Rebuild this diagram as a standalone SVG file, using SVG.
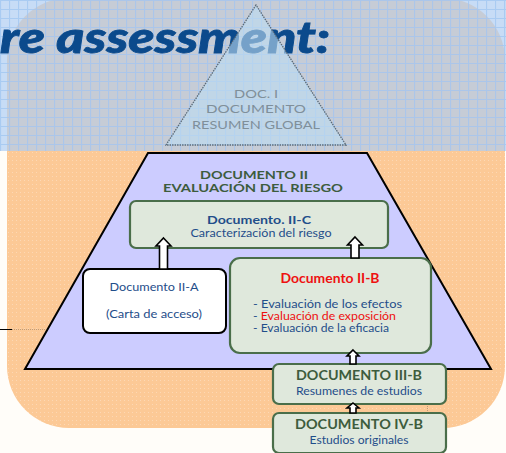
<svg xmlns="http://www.w3.org/2000/svg" width="506" height="453" viewBox="0 0 506 453">
<defs>
<style>
.t{font-family:Lato,"Open Sans","Liberation Sans",sans-serif;}
.bl{fill:#1f4e8a;font-size:12px;}
.sm{font-size:11.2px;}
.bgreen{fill:#3d5c3d;font-weight:bold;font-size:12.5px;}
.hd{font-size:11.5px;}
.box{fill:#dfe8dc;stroke:#4a6e4a;stroke-width:2.2;}
.arr{fill:#ffffff;stroke:#000000;stroke-width:1.6;stroke-linejoin:miter;}
.doc1{fill:#7f8f9a;font-size:11.5px;}
</style>
<pattern id="gridB" width="9" height="9" patternUnits="userSpaceOnUse">
<rect width="9" height="9" fill="#c7dcf6"/>
<path d="M0 0.5H9M0.5 0V9" stroke="#a9cbf2" stroke-width="1.2"/>
</pattern>
<pattern id="gridG" width="9" height="9" patternUnits="userSpaceOnUse">
<rect width="9" height="9" fill="#c6ccd6"/>
<path d="M0 0.5H9M0.5 0V9" stroke="#abc6ea" stroke-width="1.2"/>
</pattern>
<pattern id="dotO" width="4" height="4" patternUnits="userSpaceOnUse">
<rect width="4" height="4" fill="#fcc996"/>
<rect x="0" y="0" width="1" height="1" fill="#fdd8b4"/>
</pattern>
<clipPath id="topband"><rect x="0" y="0" width="506" height="151"/></clipPath>
</defs>
<g id="background">
<rect x="0" y="0" width="506" height="453" fill="#fffdf9"/>
<rect x="7" y="-2" width="498" height="430" rx="62" ry="62" fill="url(#dotO)"/>
<rect x="0" y="0" width="506" height="151" fill="url(#gridB)"/>
<rect x="7" y="-2" width="498" height="430" rx="62" ry="62" fill="url(#gridG)" clip-path="url(#topband)"/>
<line x1="0" y1="329.5" x2="12" y2="329.5" stroke="#000" stroke-width="1"/>
<line x1="12" y1="329.5" x2="46" y2="329.5" stroke="#b09070" stroke-width="0.8" stroke-dasharray="1,1"/>
<line x1="427.5" y1="404" x2="427.5" y2="413" stroke="#b09070" stroke-width="0.8" stroke-dasharray="1,1"/>
</g>
<g id="title">
<text class="t" x="0" y="53" font-size="44" font-weight="900" font-style="italic" fill="#0b4a8c" stroke="#0b4a8c" stroke-width="0.8" textLength="330" lengthAdjust="spacingAndGlyphs">re assessment:</text>
</g>
<g id="doc1">
<polygon points="256,5 166,145 346,145" fill="#bcdcf2" fill-opacity="0.6" stroke="#5a6a78" stroke-width="1.3" stroke-dasharray="1.5,1"/>
<text class="t doc1" x="256" y="98" text-anchor="middle" textLength="44" lengthAdjust="spacingAndGlyphs">DOC. I</text>
<text class="t doc1" x="256" y="113" text-anchor="middle" textLength="100" lengthAdjust="spacingAndGlyphs">DOCUMENTO</text>
<text class="t doc1" x="256" y="129" text-anchor="middle" textLength="128" lengthAdjust="spacingAndGlyphs">RESUMEN GLOBAL</text>
</g>
<g id="doc2">
<polygon points="148,153 367,153 491,369 25,369" fill="#ccccff" stroke="#000" stroke-width="2"/>
<text class="t bgreen hd" x="254" y="178.5" text-anchor="middle" textLength="108" lengthAdjust="spacingAndGlyphs">DOCUMENTO II</text>
<text class="t bgreen hd" x="253" y="192" text-anchor="middle" textLength="180" lengthAdjust="spacingAndGlyphs">EVALUACIÓN DEL RIESGO</text>
</g>
<g id="doc2c">
<rect class="box" x="130" y="201" width="258" height="47" rx="6"/>
<text class="t bl" x="259" y="223.5" text-anchor="middle" font-weight="bold" font-size="12" textLength="104" lengthAdjust="spacingAndGlyphs">Documento. II-C</text>
<text class="t bl" x="261" y="237" text-anchor="middle" font-size="11.5" textLength="141" lengthAdjust="spacingAndGlyphs">Caracterización del riesgo</text>
</g>
<g id="doc2a">
<rect x="83" y="269" width="143" height="64" rx="7" fill="#ffffff" stroke="#000" stroke-width="2"/>
<text class="t bl" x="154" y="291" text-anchor="middle" textLength="89" lengthAdjust="spacingAndGlyphs">Documento II-A</text>
<text class="t bl" x="154" y="318" text-anchor="middle" textLength="96" lengthAdjust="spacingAndGlyphs">(Carta de acceso)</text>
</g>
<g id="doc2b">
<rect class="box" x="230" y="258" width="201" height="95" rx="10"/>
<text class="t" x="330" y="283" text-anchor="middle" font-weight="bold" font-size="12.5" fill="#ee1111" textLength="99" lengthAdjust="spacingAndGlyphs">Documento II-B</text>
<text class="t bl sm" x="253" y="308" textLength="149" lengthAdjust="spacingAndGlyphs">- Evaluación de los efectos</text>
<text class="t sm" x="253" y="320" textLength="143" lengthAdjust="spacingAndGlyphs"><tspan fill="#1f4e8a">- </tspan><tspan fill="#ee1111">Evaluación de exposición</tspan></text>
<text class="t bl sm" x="253" y="332" textLength="136" lengthAdjust="spacingAndGlyphs">- Evaluación de la eficacia</text>
</g>
<g id="doc3b">
<rect class="box" x="273" y="364" width="173" height="40" rx="6"/>
<text class="t bgreen" x="359" y="380" text-anchor="middle" textLength="126" lengthAdjust="spacingAndGlyphs">DOCUMENTO III-B</text>
<text class="t bl" x="359" y="395" text-anchor="middle" textLength="126" lengthAdjust="spacingAndGlyphs">Resumenes de estudios</text>
</g>
<g id="doc4b">
<rect class="box" x="273" y="413" width="173" height="40" rx="6"/>
<text class="t bgreen" x="359" y="429" text-anchor="middle" textLength="128" lengthAdjust="spacingAndGlyphs">DOCUMENTO IV-B</text>
<text class="t bl" x="359" y="444" text-anchor="middle" textLength="99" lengthAdjust="spacingAndGlyphs">Estudios originales</text>
</g>
<g id="connectors">
<path class="arr" d="M163.5,238 L171,246 L167.5,246 L167.5,269 L159.5,269 L159.5,246 L156,246 Z"/>
<path class="arr" d="M355,237 L362.5,245 L359,245 L359,258 L351,258 L351,245 L347.5,245 Z"/>
<path class="arr" d="M353,350 L359,356 L356,356 L356,364 L350,364 L350,356 L347,356 Z"/>
<path class="arr" d="M353,403 L359,408 L356,408 L356,413 L350,413 L350,408 L347,408 Z"/>
</g>
</svg>
